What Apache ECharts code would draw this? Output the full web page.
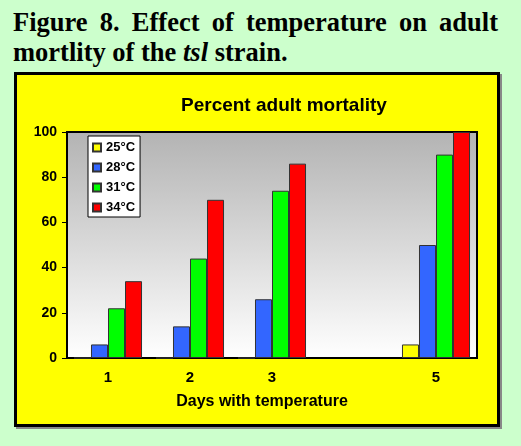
<!DOCTYPE html>
<html>
<head>
<meta charset="utf-8">
<style>
body{
    margin:0;
    background:#ccffcc;
}
.page{
    position:relative;
    width:521px;
    height:446px;
    overflow:hidden;
}
.fig-title{
    position:absolute;
    left:13px;
    top:7px;
    width:485px;
    font-family:"Liberation Serif","Times New Roman",serif;
    font-weight:bold;
    font-size:26.5px;
    line-height:30px;
    text-align:justify;
    color:#000;
}
.chart-box{
    position:absolute;
    left:14px;
    top:72px;
    width:480px;
    height:349px;
    border:3px solid #000;
    background:#ffff00;
    box-shadow:2px 2px 0 #888;
}
#main{
    position:absolute;
    left:0;
    top:0;
    width:521px;
    height:446px;
}
</style>
</head>
<body>
<div class="page">
    <div class="fig-title">Figure 8. Effect of temperature on adult mortlity of the <i>tsl</i> strain.</div>
    <div class="chart-box"></div>
    <div id="main"></div>
</div>
<script src="https://cdn.jsdelivr.net/npm/echarts@6/dist/echarts.min.js"></script>
<script>
    // 数据
    var days = ['1', '2', '3', '', '5'];
    var temps = ['25°C', '28°C', '31°C', '34°C'];
    var t25 = [0, 0, 0, '-', 6];
    var t28 = [6, 14, 26, '-', 50];
    var t31 = [22, 44, 74, '-', 90];
    var t34 = [34, 70, 86, '-', 100];
    var colors = ['#ffff00', '#3366ff', '#00ff00', '#ff0000'];
    var values = [t25, t28, t31, t34];

    var font = 'Liberation Sans, Arial, sans-serif';
    var chart = echarts.init(document.getElementById('main'));

    var series = [];
    for (var i = 0; i < temps.length; i++) {
        series.push({
            name: temps[i],
            type: 'bar',
            data: values[i],
            barGap: 0,
            barCategoryGap: '17%',
            itemStyle: {
                color: colors[i],
                borderColor: '#333',
                borderWidth: 1
            }
        });
    }

    var option = {
        animation: false,
        title: {
            text: 'Percent adult mortality',
            left: 176,
            top: 91,
            textStyle: {
                fontFamily: font,
                fontWeight: 'bold',
                fontSize: 19,
                color: '#000'
            }
        },
        legend: {
            orient: 'vertical',
            left: 88,
            top: 136,
            backgroundColor: '#fff',
            borderColor: '#000',
            borderWidth: 1,
            borderRadius: 0,
            padding: [5, 5, 3, 4],
            itemWidth: 8,
            itemHeight: 8,
            itemGap: 7,
            icon: 'rect',
            data: temps,
            textStyle: {
                fontFamily: font,
                fontWeight: 'bold',
                fontSize: 13,
                color: '#000'
            }
        },
        grid: {
            left: 67,
            top: 132,
            right: 44,
            bottom: 88,
            show: true,
            borderColor: '#000',
            borderWidth: 2,
            backgroundColor: new echarts.graphic.LinearGradient(0, 0, 0, 1, [
                {offset: 0, color: '#b3b3b3'},
                {offset: 1, color: '#ffffff'}
            ])
        },
        xAxis: {
            type: 'category',
            data: days,
            name: 'Days with temperature',
            nameLocation: 'middle',
            nameGap: 36,
            nameTextStyle: {
                fontFamily: font,
                fontWeight: 'bold',
                fontSize: 16,
                color: '#000',
                padding: [0, 20, 0, 0]
            },
            axisLine: {lineStyle: {color: '#000', width: 2}},
            axisTick: {length: 5, lineStyle: {color: '#000'}},
            axisLabel: {
                margin: 12,
                fontFamily: font,
                fontWeight: 'bold',
                fontSize: 15,
                color: '#000'
            }
        },
        yAxis: {
            type: 'value',
            min: 0,
            max: 100,
            interval: 20,
            splitLine: {show: false},
            axisLine: {show: true, lineStyle: {color: '#000', width: 2}},
            axisTick: {show: true, length: 5, lineStyle: {color: '#000'}},
            axisLabel: {
                margin: 10,
                fontFamily: font,
                fontWeight: 'bold',
                fontSize: 14,
                color: '#000'
            }
        },
        series: series
    };
    chart.setOption(option);
</script>
</body>
</html>
